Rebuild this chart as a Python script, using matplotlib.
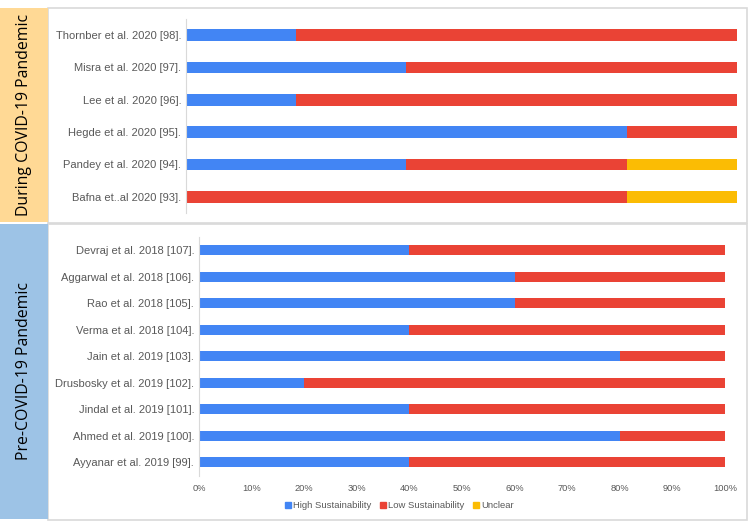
import matplotlib
matplotlib.use("Agg")
import matplotlib.pyplot as plt
from matplotlib.patches import Rectangle
from matplotlib.lines import Line2D
import numpy as np

# ---- data ----
during_labels = ["Thornber et al. 2020 [98].", "Misra et al. 2020 [97].", "Lee et al. 2020 [96].",
                 "Hegde et al. 2020 [95].", "Pandey et al. 2020 [94].", "Bafna et..al 2020 [93]."]
during_high = [20, 40, 20, 80, 40, 0]
during_low = [80, 60, 80, 20, 40, 80]
during_unclear = [0, 0, 0, 0, 20, 20]

pre_labels = ["Devraj et al. 2018 [107].", "Aggarwal et al. 2018 [106].", "Rao et al. 2018 [105].",
              "Verma et al. 2018 [104].", "Jain et al. 2019 [103].", "Drusbosky et al. 2019 [102].",
              "Jindal et al. 2019 [101].", "Ahmed et al. 2019 [100].", "Ayyanar et al. 2019 [99]."]
pre_high = [40, 60, 60, 40, 80, 20, 40, 80, 40]
pre_low = [60, 40, 40, 60, 20, 80, 60, 20, 60]
pre_unclear = [0, 0, 0, 0, 0, 0, 0, 0, 0]

series_names = ["High Sustainability", "Low Sustainability", "Unclear"]
xticks = [0, 10, 20, 30, 40, 50, 60, 70, 80, 90, 100]
xtick_labels = [f"{t}%" for t in xticks]
banner_top = "During COVID-19 Pandemic"
banner_bottom = "Pre-COVID-19 Pandemic"

# ---- style ----
C_HIGH = "#4285F4"
C_LOW = "#EA4335"
C_UNC = "#FBBC04"
TXT = "#595959"
W, H = 750, 523

fig = plt.figure(figsize=(7.5, 5.23), dpi=100)
fig.patch.set_facecolor("white")

def fx(x):
    return x / W

def fy(y):
    return 1 - y / H

def rect(x0, y0, x1, y1, **kw):
    fig.patches.append(Rectangle((fx(x0), fy(y1)), fx(x1) - fx(x0), fy(y0) - fy(y1),
                                 transform=fig.transFigure, figure=fig, zorder=-5, **kw))

# panel boxes
rect(48, 8, 747, 223, facecolor="white", edgecolor="#D9D9D9", lw=1.2)
rect(48, 224, 747, 520, facecolor="white", edgecolor="#D9D9D9", lw=1.2)
# banners
rect(0, 8, 48, 222, facecolor="#FFD995", edgecolor="none")
rect(0, 224, 48, 519, facecolor="#9DC3E6", edgecolor="none")
fig.text(fx(24), fy(115), banner_top, rotation=90, ha="center", va="center",
         fontsize=11.4, family="Open Sans", color="black")
fig.text(fx(24), fy(371), banner_bottom, rotation=90, ha="center", va="center",
         fontsize=11.4, family="Open Sans", color="black")

def panel(x0, x1, y0, y1, labels, hi, lo, un, bh, show_x):
    ax = fig.add_axes([fx(x0), fy(y1), fx(x1) - fx(x0), fy(y0) - fy(y1)])
    ax.set_facecolor("none")
    ax.set_zorder(3)
    n = len(labels)
    y = np.arange(n)
    hi = np.array(hi); lo = np.array(lo); un = np.array(un)
    ax.barh(y, hi, height=bh, color=C_HIGH, label=series_names[0])
    ax.barh(y, lo, left=hi, height=bh, color=C_LOW, label=series_names[1])
    ax.barh(y, un, left=hi + lo, height=bh, color=C_UNC, label=series_names[2])
    ax.set_xlim(0, 100)
    ax.set_ylim(n - 0.5, -0.5)
    ax.set_yticks(y)
    ax.set_yticklabels(labels, fontsize=8, color=TXT, family="Liberation Sans")
    for s in ["top", "right", "bottom"]:
        ax.spines[s].set_visible(False)
    ax.spines["left"].set_color("#D9D9D9")
    ax.spines["left"].set_linewidth(0.8)
    ax.tick_params(axis="y", length=0, pad=3.5)
    if show_x:
        ax.set_xticks(xticks)
        ax.set_xticklabels(xtick_labels, fontsize=6.7, color=TXT, family="Liberation Sans")
        ax.tick_params(axis="x", length=0, pad=6)
    else:
        ax.set_xticks([])
    return ax

panel(186, 737, 19, 213, during_labels, during_high, during_low, during_unclear, 0.37, False)
ax2 = panel(199, 725, 237, 475.5, pre_labels, pre_high, pre_low, pre_unclear, 0.38, True)

handles = [Line2D([0], [0], marker="s", linestyle="none", markersize=4, color=c)
           for c in (C_HIGH, C_LOW, C_UNC)]
fig.legend(handles, series_names, loc="center", bbox_to_anchor=(fx(399), fy(506)),
           ncol=3, frameon=False, prop={"family": "Liberation Sans", "size": 6.8},
           labelcolor=TXT, handletextpad=0.1, columnspacing=0.9, handlelength=0.8)

fig.savefig("out.png", dpi=100, facecolor="white")
